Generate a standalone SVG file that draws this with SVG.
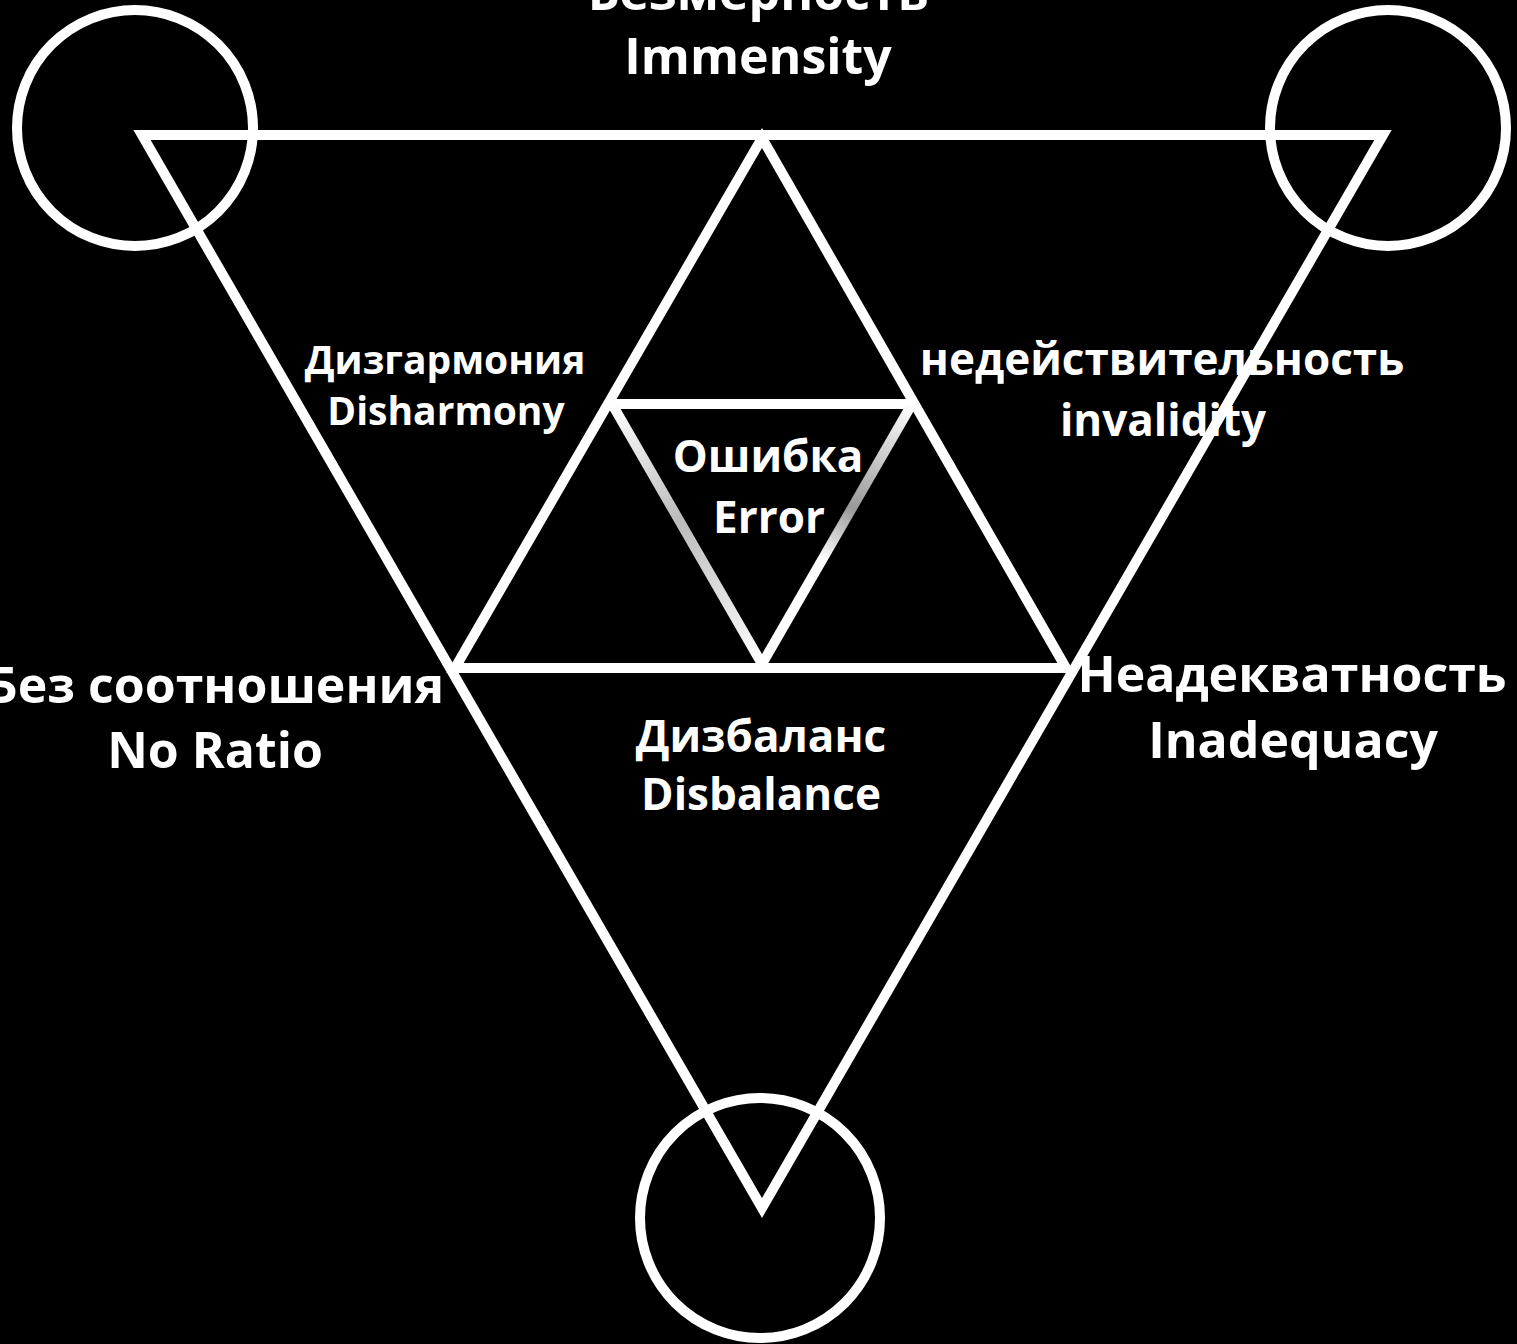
<svg xmlns="http://www.w3.org/2000/svg" width="1517" height="1344" viewBox="0 0 1517 1344">
<defs>
<style>
.ln{fill:none;stroke:#fff;stroke-width:10;stroke-linejoin:miter}
.c{fill:none;stroke:#fff;stroke-width:10}
.t{font-family:"Open Sans","Noto Sans","Liberation Sans",sans-serif;font-weight:bold;fill:#fff;text-anchor:middle}
.big{font-size:50px}
.sm{font-size:44px}
.xs{font-size:39px}
</style>
<linearGradient id="gl" x1="612" y1="404" x2="762" y2="664" gradientUnits="userSpaceOnUse">
<stop offset="0" stop-color="#fff"/><stop offset="0.45" stop-color="#bbb"/><stop offset="1" stop-color="#fff"/>
</linearGradient>
<linearGradient id="gr" x1="912" y1="404" x2="762" y2="664" gradientUnits="userSpaceOnUse">
<stop offset="0" stop-color="#fff"/><stop offset="0.4" stop-color="#999"/><stop offset="0.6" stop-color="#fff"/><stop offset="1" stop-color="#fff"/>
</linearGradient>
</defs>
<rect width="1517" height="1344" fill="#000"/>
<g id="labels">
<text class="t big" x="758" y="10">Безмерность</text>
<text class="t big" x="758" y="74">Immensity</text>
<text class="t xs" x="445" y="374">Дизгармония</text>
<text class="t xs" x="446" y="425">Disharmony</text>
<text class="t sm" x="1162" y="375">недействительность</text>
<text class="t sm" x="1163" y="436">invalidity</text>
<text class="t sm" x="768" y="472">Ошибка</text>
<text class="t sm" x="769" y="533">Error</text>
<text class="t big" x="215" y="703">Без соотношения</text>
<text class="t big" x="215" y="768">No Ratio</text>
<text class="t big" x="1292" y="692">Неадекватность</text>
<text class="t big" x="1293" y="758">Inadequacy</text>
<text class="t sm" x="761" y="752">Дизбаланс</text>
<text class="t sm" x="761" y="810">Disbalance</text>
</g>
<g id="circles">
<circle id="circle-left" class="c" cx="135" cy="128" r="118"/>
<circle id="circle-right" class="c" cx="1388" cy="128" r="118"/>
<circle id="circle-bottom" class="c" cx="760" cy="1218" r="120"/>
</g>
<g id="connectors">
<polygon id="outer-triangle" class="ln" points="142,135 1383,135 762,1208"/>
<polygon id="middle-triangle" class="ln" points="762,138 455,668 1066,668"/>
<line class="ln" x1="610" y1="404" x2="914" y2="404"/>
<line x1="612" y1="404" x2="762" y2="664" stroke="url(#gl)" stroke-width="10"/>
<line x1="912" y1="404" x2="762" y2="664" stroke="url(#gr)" stroke-width="10"/>
</g>
</svg>
